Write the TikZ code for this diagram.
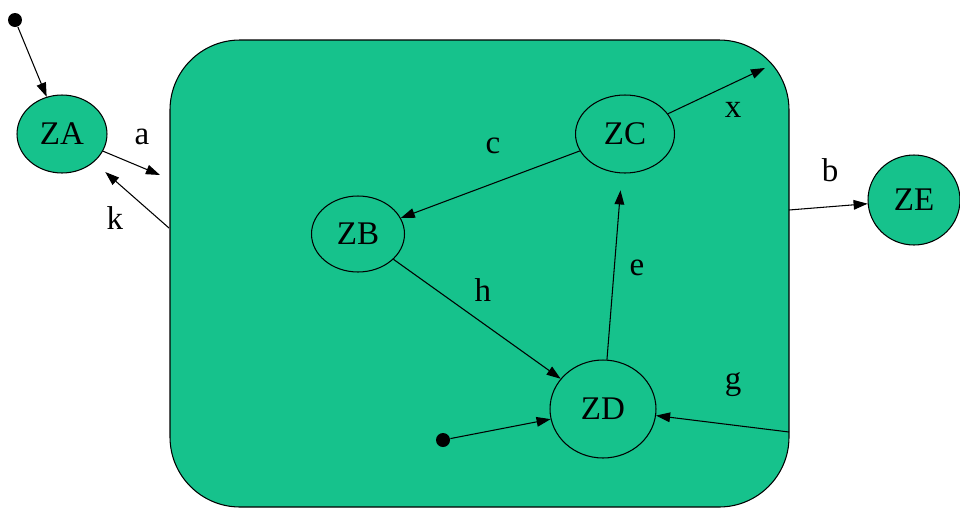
\documentclass[tikz,border=0pt]{standalone}
\usepackage{fontspec}
\setmainfont{Liberation Serif}
\usetikzlibrary{shapes.geometric,arrows.meta}
\definecolor{zgreen}{RGB}{22,194,140}

\begin{document}
\begin{tikzpicture}[x=0.02cm,y=-0.02cm,line width=0.6pt,
    >={Triangle[length=8pt,width=5.5pt]},
    font=\fontsize{18.8}{22}\selectfont]

          \useasboundingbox (0,0) rectangle (960,511);

          % the big state
          \draw[fill=zgreen, rounded corners=1.4cm] (170,40) rectangle (789,507);

          \begin{scope}[every node/.style={ellipse, draw, fill=zgreen, inner sep=0pt}]
            \node[minimum width=1.8cm,  minimum height=1.56cm] (ZA) at (62,134)  {ZA};
            \node[minimum width=1.86cm, minimum height=1.52cm] (ZB) at (358,234) {ZB};
            \node[minimum width=1.98cm, minimum height=1.56cm] (ZC) at (625,134) {ZC};
            \node[minimum width=2.12cm, minimum height=1.96cm] (ZD) at (603,409) {ZD};
            \node[minimum width=1.84cm, minimum height=1.8cm]  (ZE) at (914,200) {ZE};
          \end{scope}

          \begin{scope}[every node/.style={circle, fill=black, inner sep=0pt, minimum size=0.28cm}]
            \node (I1) at (15,20)   {};
            \node (I2) at (443,440) {};
          \end{scope}

          \coordinate (aend) at (160,175);
          \coordinate (kbeg) at (169,228);
          \coordinate (xend) at (765,68);
          \coordinate (bbeg) at (789,210);
          \coordinate (gbeg) at (789,432);

          \begin{scope}[every edge/.style={draw, ->}]
            \path (I1)   edge (ZA);
            \path (ZA)   edge (aend);
            \path (kbeg) edge[shorten >=0.3cm] (ZA);
            \path (ZC)   edge (xend);
            \path (ZC)   edge (ZB);
            \path (ZB)   edge (ZD);
            \path (ZD)   edge[shorten >=0.34cm] (ZC);
            \path (gbeg) edge (ZD);
            \path (I2)   edge (ZD);
            \path (bbeg) edge (ZE);
          \end{scope}

          \begin{scope}[every node/.style={inner sep=0pt}]
            \node (la) at (142,137) {a};
            \node (lk) at (115,218) {k};
            \node (lc) at (493,146) {c};
            \node (lx) at (733,110) {x};
            \node (lh) at (483,290) {h};
            \node (le) at (637,268) {e};
            \node (lb) at (830,170) {b};
            \node (lg) at (733,385) {g};
          \end{scope}

        \end{tikzpicture}
\end{document}
